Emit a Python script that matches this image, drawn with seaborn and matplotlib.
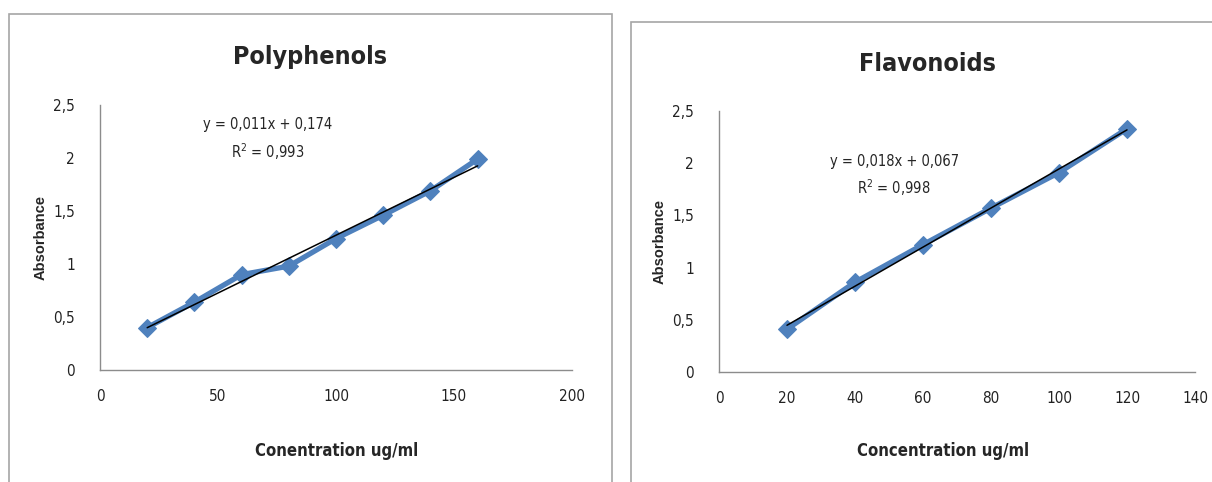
import numpy as np
import pandas as pd
import seaborn as sns
import matplotlib.pyplot as plt
from matplotlib.patches import Rectangle

# values
poly_conc = [20, 40, 60, 80, 100, 120, 140, 160]
poly_abs = [0.40, 0.64, 0.90, 0.98, 1.24, 1.46, 1.69, 1.99]
flav_conc = [20, 40, 60, 80, 100, 120]
flav_abs = [0.41, 0.86, 1.22, 1.57, 1.91, 2.33]

poly_xticks = [0, 50, 100, 150, 200]
flav_xticks = [0, 20, 40, 60, 80, 100, 120, 140]
yticks = [0, 0.5, 1, 1.5, 2, 2.5]
ytick_labels = ['0', '0,5', '1', '1,5', '2', '2,5']

poly_eq = 'y = 0,011x + 0,174'
poly_r2 = 'R$^2$ = 0,993'
flav_eq = 'y = 0,018x + 0,067'
flav_r2 = 'R$^2$ = 0,998'

sns.set_style('white')
plt.rcParams['font.family'] = ['DejaVu Sans']
plt.rcParams['font.stretch'] = 'condensed'
plt.rcParams['mathtext.fontset'] = 'custom'
plt.rcParams['mathtext.rm'] = 'DejaVu Sans'

blue = '#4F81BD'
W, H = 1212, 482
fig = plt.figure(figsize=(W / 100, H / 100), dpi=100)

# chart borders like the excel chart areas
fig.patches.append(Rectangle((9 / W, -0.1), 603 / W, 1.1 - 14 / H, transform=fig.transFigure,
                             fill=False, edgecolor='#a6a6a6', lw=1.2))
fig.patches.append(Rectangle((631 / W, -0.1), 0.6, 1.1 - 22 / H, transform=fig.transFigure,
                             fill=False, edgecolor='#a6a6a6', lw=1.2))


def draw(ax, x, y, xticks, title, title_pos, xlabel, xlab_x, eq, r2, eq_pos):
    df = pd.DataFrame({'conc': x, 'abs': y})
    sns.lineplot(data=df, x='conc', y='abs', ax=ax, color=blue, lw=3.8,
                 marker='D', markersize=9, markeredgecolor=blue)
    # linear trendline
    sns.regplot(data=df, x='conc', y='abs', ax=ax, scatter=False, ci=None,
                color='black', line_kws={'lw': 1.1})
    ax.set_xlim(xticks[0], xticks[-1])
    ax.set_ylim(0, 2.5)
    ax.set_xticks(xticks)
    ax.set_xticklabels([str(t) for t in xticks])
    ax.set_yticks(yticks)
    ax.set_yticklabels(ytick_labels)
    ax.tick_params(length=0, labelsize=11, colors='#222222', pad=14)
    ax.tick_params(axis='y', pad=18)
    for s in ['top', 'right']:
        ax.spines[s].set_visible(False)
    for s in ['left', 'bottom']:
        ax.spines[s].set_color('#8c8c8c')
        ax.spines[s].set_linewidth(1.0)
    ax.set_xlabel(xlabel, fontsize=12, fontweight='bold')
    ax.xaxis.set_label_coords(xlab_x, -0.27)
    ax.set_ylabel('Absorbance', fontsize=10.5, fontweight='bold',
                  family=['Liberation Sans', 'DejaVu Sans'], fontstretch='normal')
    ax.yaxis.set_label_coords(-0.11, 0.5)
    ax.text(title_pos[0], title_pos[1], title, transform=ax.transAxes, ha='center',
            va='center', fontsize=18, fontweight='bold')
    ax.text(eq_pos[0], eq_pos[1], eq, transform=ax.transAxes, ha='center',
            va='center', fontsize=10.5)
    ax.text(eq_pos[0], eq_pos[1] - 0.1, r2, transform=ax.transAxes, ha='center',
            va='center', fontsize=10.5)


ax1 = fig.add_axes([100 / W, (H - 370) / H, 472 / W, 265 / H])
draw(ax1, poly_conc, poly_abs, poly_xticks, 'Polyphenols', (0.445, 1.18),
     'Conentration ug/ml', 0.502, poly_eq, poly_r2, (0.355, 0.925))

ax2 = fig.add_axes([719 / W, (H - 372) / H, 476 / W, 261 / H])
draw(ax2, flav_conc, flav_abs, flav_xticks, 'Flavonoids', (0.437, 1.18),
     'Concentration ug/ml', 0.47, flav_eq, flav_r2, (0.368, 0.805))

fig.savefig('out.png', dpi=100)
